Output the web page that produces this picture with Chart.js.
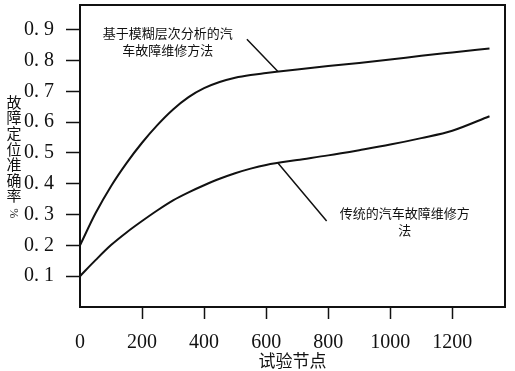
<!DOCTYPE html>
<html><head><meta charset="utf-8">
<script src="https://cdn.jsdelivr.net/npm/chart.js@4/dist/chart.umd.min.js"></script>
<style>html,body{margin:0;padding:0;background:#fff}#wrap{width:515px;height:371px}</style>
</head><body><div id="wrap"><canvas id="c" width="515" height="371"></canvas></div>
<script>
// ---- data ----
const xNodes = [0, 50, 100, 150, 200, 250, 300, 350, 400, 450, 500, 550, 600, 700, 800, 900, 1000, 1100, 1200, 1320];
const fuzzyAhp = [0.20, 0.304, 0.392, 0.467, 0.533, 0.591, 0.641, 0.681, 0.710, 0.730, 0.744, 0.753, 0.759, 0.771, 0.782, 0.792, 0.803, 0.815, 0.826, 0.839];
const traditional = [0.10, 0.152, 0.201, 0.242, 0.279, 0.314, 0.346, 0.372, 0.395, 0.416, 0.434, 0.449, 0.461, 0.477, 0.492, 0.509, 0.527, 0.548, 0.572, 0.619];
const yTickValues = [0.1, 0.2, 0.3, 0.4, 0.5, 0.6, 0.7, 0.8, 0.9];
const yTickLabels = ['0. 1', '0. 2', '0. 3', '0. 4', '0. 5', '0. 6', '0. 7', '0. 8', '0. 9'];
const xTickValues = [0, 200, 400, 600, 800, 1000, 1200];
const xTickLabels = ['0', '200', '400', '600', '800', '1000', '1200'];
const seriesNames = ['基于模糊层次分析的汽车故障维修方法', '传统的汽车故障维修方法'];
const xTitle = '试验节点';
const yTitleChars = ['故', '障', '定', '位', '准', '确', '率', '%'];
const noteUpper = ['基于模糊层次分析的汽', '车故障维修方法'];
const noteLower = ['传统的汽车故障维修方', '法'];

const serif = "'Liberation Serif', 'DejaVu Serif', serif";
const cjk = "'Noto Sans CJK SC', sans-serif";

const decor = {
  id: 'decor',
  afterDraw(chart) {
    const {ctx, chartArea: a, scales: {x, y}} = chart;
    ctx.save();
    // frame
    ctx.strokeStyle = '#111';
    ctx.lineWidth = 2;
    ctx.strokeRect(a.left, a.top, a.right - a.left, a.bottom - a.top);
    // y title, stacked characters
    ctx.fillStyle = '#111';
    ctx.font = "15px " + cjk;
    ctx.textAlign = 'center';
    ctx.textBaseline = 'middle';
    yTitleChars.forEach((ch, i) => {
      const cy = 102 + i * 15.6;
      if (ch === '%') {
        ctx.save();
        ctx.translate(13, cy + 2);
        ctx.rotate(Math.PI / 2);
        ctx.font = "12px " + serif;
        ctx.fillText(ch, 0, 0);
        ctx.restore();
      } else {
        ctx.fillText(ch, 14, cy);
      }
    });
    // annotations
    ctx.font = "13px " + cjk;
    const tx1 = x.getPixelForValue(283);
    ctx.fillText(noteUpper[0], tx1, y.getPixelForValue(0.89));
    ctx.fillText(noteUpper[1], tx1, y.getPixelForValue(0.835));
    const tx2 = x.getPixelForValue(1047);
    ctx.fillText(noteLower[0], tx2, y.getPixelForValue(0.305));
    ctx.fillText(noteLower[1], tx2, y.getPixelForValue(0.25));
    // leader lines
    ctx.lineWidth = 1.5;
    ctx.beginPath();
    ctx.moveTo(x.getPixelForValue(538), y.getPixelForValue(0.869));
    ctx.lineTo(x.getPixelForValue(638), y.getPixelForValue(0.764));
    ctx.moveTo(x.getPixelForValue(638), y.getPixelForValue(0.467));
    ctx.lineTo(x.getPixelForValue(795), y.getPixelForValue(0.279));
    ctx.stroke();
    ctx.restore();
  }
};

new Chart(document.getElementById('c'), {
  type: 'line',
  data: {
    labels: xNodes,
    datasets: [
      {label: seriesNames[0], data: xNodes.map((v, i) => ({x: v, y: fuzzyAhp[i]})),
       borderColor: '#111', borderWidth: 2, pointRadius: 0, fill: false, cubicInterpolationMode: 'monotone'},
      {label: seriesNames[1], data: xNodes.map((v, i) => ({x: v, y: traditional[i]})),
       borderColor: '#111', borderWidth: 2, pointRadius: 0, fill: false, cubicInterpolationMode: 'monotone'}
    ]
  },
  options: {
    responsive: false,
    devicePixelRatio: 1,
    animation: false,
    layout: {padding: {top: 5, right: 10, left: 0, bottom: 0}},
    plugins: {legend: {display: false}, tooltip: {enabled: false}},
    scales: {
      x: {
        type: 'linear', min: 0, max: 1370,
        afterBuildTicks: (s) => { s.ticks = xTickValues.map(v => ({value: v})); },
        ticks: {autoSkip: false, maxRotation: 0, color: '#111', padding: 12,
                font: {family: serif, size: 20},
                callback: (v, i) => xTickLabels[i] ?? ''},
        grid: {drawOnChartArea: false, tickLength: 12, tickWidth: 1.5,
               tickColor: (c) => (c.index === 0) ? 'rgba(0,0,0,0)' : '#111'},
        border: {color: '#111', width: 2},
        title: {display: true, text: xTitle, color: '#111', font: {family: cjk, size: 17}, padding: {top: 0, bottom: 0}},
        afterFit: (s) => { s.height = 64; s.paddingLeft = 0; s.paddingRight = 0; }
      },
      y: {
        min: 0, max: 0.98,
        afterBuildTicks: (s) => { s.ticks = yTickValues.map(v => ({value: v})); },
        ticks: {autoSkip: false, color: '#111', padding: 12,
                font: {family: serif, size: 20},
                callback: (v, i) => yTickLabels[i] ?? ''},
        grid: {drawOnChartArea: false, tickLength: 14, tickWidth: 1.5, tickColor: '#111'},
        border: {color: '#111', width: 2},
        afterFit: (s) => { s.width = 80; s.paddingTop = 0; s.paddingBottom = 0; }
      }
    }
  },
  plugins: [decor]
});
</script></body></html>
